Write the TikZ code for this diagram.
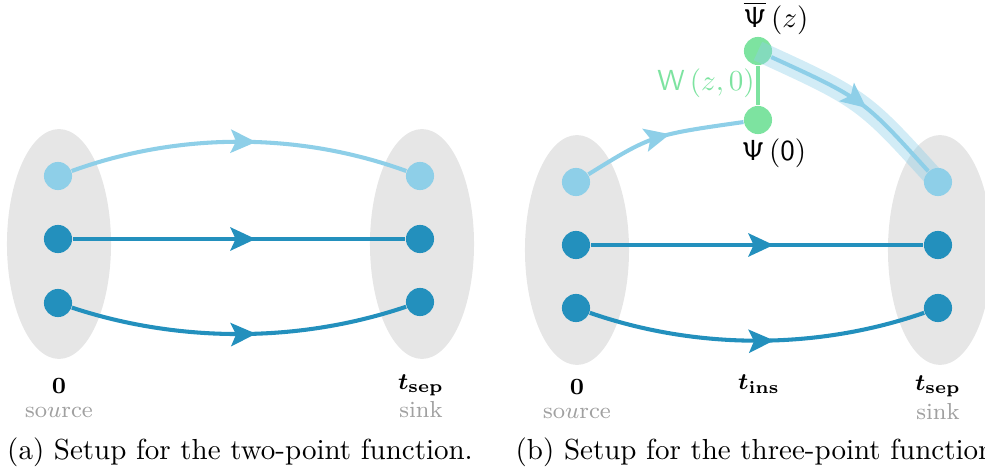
\documentclass[tikz,border=0pt]{standalone}
\usepackage{amsmath,bm}
\usetikzlibrary{arrows.meta,decorations.markings,shapes.geometric}
\definecolor{lightpath}{HTML}{8ECFE8}
\definecolor{darkpath}{HTML}{2390BD}
\definecolor{inscol}{HTML}{7DE3A0}
\definecolor{slab}{HTML}{E6E6E6}
\definecolor{muted}{HTML}{A0A0A0}

\begin{document}
\begin{tikzpicture}[x=0.345pt,y=-0.345pt,
  slice/.style={ellipse, fill=slab, minimum width=35.9pt, minimum height=79.3pt, inner sep=0pt},
  quark/.style={circle, minimum size=9.7pt, inner sep=0pt},
  qlight/.style={quark, fill=lightpath},
  qdark/.style={quark, fill=darkpath},
  qins/.style={quark, fill=inscol},
  prop/.style={line width=1.4pt},
  midarrow/.style={postaction={decorate}, decoration={markings,
      mark=at position #1 with {\arrow{Stealth[length=8.7pt,width=8pt,inset=1.8pt]}}}},
  midarrow/.default=0.55,
  timelabel/.style={inner sep=0pt, font=\footnotesize},
  rolelabel/.style={inner sep=0pt, text=muted, font=\footnotesize},
  oplabel/.style={inner sep=0pt},
  caption/.style={inner sep=0pt},
]
\clip (0,0) rectangle (985,474);

% ---------- (a) two-point function ----------
\node[slice] (srcA) at (59,244) {};
\node[slice] (snkA) at (422,244) {};

\node[qlight] (a1) at (58,176) {};
\node[qdark]  (a2) at (58,239) {};
\node[qdark]  (a3) at (58,303) {};
\node[qlight] (b1) at (420,176) {};
\node[qdark]  (b2) at (420,239) {};
\node[qdark]  (b3) at (420,302) {};

\draw[prop, lightpath, midarrow] (a1) .. controls (179,132) and (299,132) .. (b1);
\draw[prop, darkpath, midarrow] (a2) -- (b2);
\draw[prop, darkpath, midarrow] (a3) .. controls (179,343) and (299,343) .. (b3);

\node[timelabel] (tA0) at (59,386) {$\mathbf{0}$};
\node[timelabel] (tAs) at (421,385) {$\boldsymbol{t}_{\mathbf{sep}}$};
\node[rolelabel] (rAsrc) at (59,412) {so$u$rce};
\node[rolelabel] (rAsnk) at (421,410) {sink};
\node[caption] (capA) at (240,452) {(a) Setup for the two-point function.};

% ---------- (b) three-point function ----------
\node[slice] (srcB) at (577,250) {};
\node[slice] (snkB) at (940,250) {};

\node[qlight] (c1) at (576,182) {};
\node[qdark]  (c2) at (576,245) {};
\node[qdark]  (c3) at (576,308) {};
\node[qlight] (d1) at (938,182) {};
\node[qdark]  (d2) at (938,245) {};
\node[qdark]  (d3) at (938,308) {};

\node[qins] (psib) at (758,51) {};
\node[qins] (psi)  at (758,120) {};

% insertion link
\draw[line width=1.4pt, inscol] (psib) -- (psi);

% propagators
\draw[prop, lightpath, midarrow] (c1) .. controls (652,135) .. (psi);
\draw[prop, darkpath, midarrow] (c2) -- (d2);
\draw[prop, darkpath, midarrow] (c3) .. controls (697,350) and (817,350) .. (d3);

% highlighted outgoing leg
\draw[line width=7pt, lightpath, opacity=0.4]
  (psib.center) .. controls (863,99) .. (d1.center);
\draw[prop, lightpath, midarrow] (psib) .. controls (863,99) .. (d1);

\node[oplabel] (lpsib) at (776,18) {$\overline{\mathsf{\Psi}}\,(z)$};
\node[oplabel] (lpsi)  at (774,153) {$\mathsf{\Psi}\,(\mathsf{0})$};
\node[oplabel, text=inscol] (lW) at (706,83) {$\mathsf{W}\,(z,0)$};

\node[timelabel] (tB0) at (577,387) {$\mathbf{0}$};
\node[timelabel] (tBi) at (759,384) {$\boldsymbol{t}_{\mathbf{ins}}$};
\node[timelabel] (tBs) at (938,386) {$\boldsymbol{t}_{\mathbf{sep}}$};
\node[rolelabel] (rBsrc) at (577,413) {so$u$rce};
\node[rolelabel] (rBsnk) at (938,412) {sink};
\node[caption] (capB) at (759,452) {(b) Setup for the three-point function.};
\end{tikzpicture}
\end{document}
